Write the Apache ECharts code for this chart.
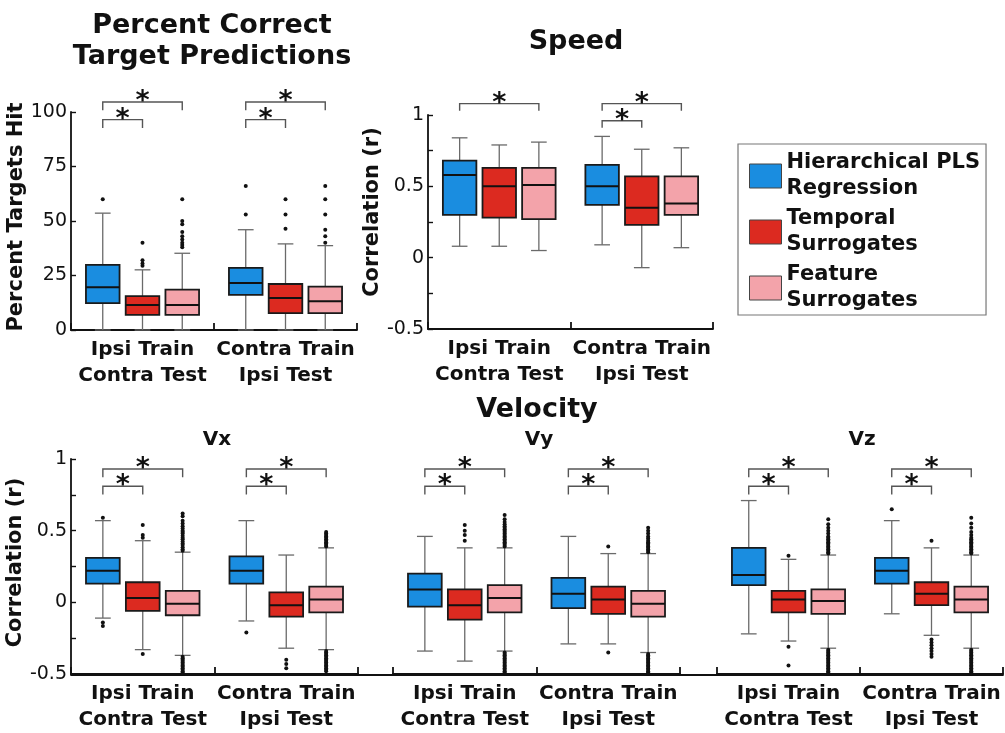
<!DOCTYPE html>
<html><head><meta charset="utf-8">
<script src="https://cdn.jsdelivr.net/npm/echarts@6/dist/echarts.min.js"></script>
<style>html,body{margin:0;padding:0;background:#fff}#c{width:1005px;height:733px}</style>
</head><body><div id="c"></div>
<script>
// ---------- DATA ----------
const groups = ['Ipsi Train\nContra Test', 'Contra Train\nIpsi Test'];
const methods = ['Hierarchical PLS Regression', 'Temporal Surrogates', 'Feature Surrogates'];
const legendLabels = ['Hierarchical PLS\nRegression', 'Temporal\nSurrogates', 'Feature\nSurrogates'];
const pctTickLabels = ['0', '25', '50', '75', '100'];
const corrTickLabels = ['-0.5', '0', '0.5', '1'];

// box stats per group: [lower whisker, Q1, median, Q3, upper whisker]
const pctHPLS = [[0, 12.3, 19.6, 29.9, 53.6], [0, 16.1, 21.6, 28.5, 46.0]];
const pctTemp = [[0, 6.9, 11.5, 15.5, 27.6], [0, 7.7, 14.7, 21.1, 39.5]];
const pctFeat = [[0, 6.9, 11.5, 18.5, 35.2], [0, 7.7, 13.2, 19.9, 38.7]];

const spdHPLS = [[0.08, 0.30, 0.58, 0.68, 0.84], [0.09, 0.37, 0.50, 0.65, 0.85]];
const spdTemp = [[0.08, 0.28, 0.50, 0.63, 0.79], [-0.07, 0.23, 0.35, 0.57, 0.76]];
const spdFeat = [[0.05, 0.27, 0.51, 0.63, 0.81], [0.07, 0.30, 0.38, 0.57, 0.77]];

const vxHPLS = [[-0.11, 0.13, 0.22, 0.31, 0.57], [-0.13, 0.13, 0.22, 0.32, 0.57]];
const vxTemp = [[-0.33, -0.06, 0.03, 0.14, 0.43], [-0.32, -0.10, -0.02, 0.07, 0.33]];
const vxFeat = [[-0.37, -0.09, -0.01, 0.08, 0.35], [-0.33, -0.07, 0.02, 0.11, 0.38]];

const vyHPLS = [[-0.34, -0.03, 0.09, 0.20, 0.46], [-0.29, -0.04, 0.06, 0.17, 0.46]];
const vyTemp = [[-0.41, -0.12, -0.02, 0.09, 0.38], [-0.29, -0.08, 0.02, 0.11, 0.34]];
const vyFeat = [[-0.34, -0.07, 0.03, 0.12, 0.38], [-0.35, -0.10, -0.01, 0.08, 0.34]];

const vzHPLS = [[-0.22, 0.12, 0.19, 0.38, 0.71], [-0.08, 0.13, 0.22, 0.31, 0.57]];
const vzTemp = [[-0.27, -0.07, 0.02, 0.08, 0.30], [-0.23, -0.02, 0.06, 0.14, 0.38]];
const vzFeat = [[-0.32, -0.08, 0.01, 0.09, 0.33], [-0.32, -0.07, 0.02, 0.11, 0.33]];

// outliers per group
const pctOutHPLS = [[60], [53, 66]];
const pctOutTemp = [[29.5, 30.5, 32, 40], [46.5, 53, 60]];
const pctOutFeat = [[38, 39, 40, 41.5, 43, 45, 48.5, 50, 60], [40, 43, 46, 53, 60, 66]];

const spdOutHPLS = [[], []];
const spdOutTemp = [[], []];
const spdOutFeat = [[], []];

const vxOutHPLS = [[0.59, -0.14, -0.165], [-0.21]];
const vxOutTemp = [[0.45, 0.47, 0.54, -0.36], [-0.40, -0.43, -0.46]];
const vxOutFeat = [
  [0.36, 0.37, 0.385, 0.40, 0.41, 0.425, 0.44, 0.45, 0.465, 0.48, 0.49, 0.50, 0.515, 0.53, 0.55, 0.57, 0.60, 0.62,
   -0.38, -0.39, -0.40, -0.41, -0.42, -0.43, -0.44, -0.45, -0.46, -0.47, -0.48, -0.49, -0.50],
  [0.39, 0.40, 0.41, 0.42, 0.43, 0.44, 0.45, 0.46, 0.47, 0.48, 0.49,
   -0.34, -0.35, -0.36, -0.37, -0.38, -0.39, -0.40, -0.41, -0.42, -0.43, -0.44, -0.45, -0.46, -0.47, -0.48]
];

const vyOutHPLS = [[], []];
const vyOutTemp = [[0.43, 0.47, 0.50, 0.54], [0.39, -0.35]];
const vyOutFeat = [
  [0.39, 0.40, 0.41, 0.42, 0.43, 0.44, 0.45, 0.46, 0.47, 0.48, 0.49, 0.50, 0.51, 0.52, 0.53, 0.545, 0.56, 0.58, 0.61,
   -0.35, -0.36, -0.37, -0.38, -0.39, -0.40, -0.41, -0.42, -0.43, -0.44, -0.45, -0.46, -0.47, -0.48, -0.49, -0.50],
  [0.35, 0.36, 0.37, 0.38, 0.39, 0.40, 0.41, 0.42, 0.43, 0.445, 0.46, 0.48, 0.50, 0.52,
   -0.36, -0.37, -0.38, -0.39, -0.40, -0.41, -0.42, -0.43, -0.44, -0.45, -0.46, -0.47, -0.48, -0.49, -0.50]
];

const vzOutHPLS = [[], [0.65]];
const vzOutTemp = [[0.325, -0.31, -0.44], [0.43, -0.26, -0.28, -0.30, -0.32, -0.34, -0.36, -0.38]];
const vzOutFeat = [
  [0.34, 0.35, 0.36, 0.37, 0.38, 0.39, 0.40, 0.41, 0.42, 0.43, 0.44, 0.45, 0.46, 0.48, 0.50, 0.52, 0.545, 0.58,
   -0.33, -0.34, -0.35, -0.36, -0.37, -0.38, -0.39, -0.40, -0.41, -0.42, -0.43, -0.44, -0.45, -0.46, -0.47, -0.48, -0.49, -0.50],
  [0.34, 0.35, 0.36, 0.37, 0.38, 0.39, 0.40, 0.41, 0.42, 0.43, 0.44, 0.45, 0.47, 0.49, 0.52, 0.55, 0.59,
   -0.33, -0.34, -0.35, -0.36, -0.37, -0.38, -0.39, -0.40, -0.41, -0.42, -0.43, -0.44, -0.45, -0.46, -0.47, -0.48, -0.49, -0.50]
];

// significant comparisons: [group, methodA, methodB]
const pctSig = [[0, 0, 1], [0, 0, 2], [1, 0, 1], [1, 0, 2]];
const spdSig = [[0, 0, 2], [1, 0, 1], [1, 0, 2]];
const vxSig = [[0, 0, 1], [0, 0, 2], [1, 0, 1], [1, 0, 2]];
const vySig = [[0, 0, 1], [0, 0, 2], [1, 0, 1], [1, 0, 2]];
const vzSig = [[0, 0, 1], [0, 0, 2], [1, 0, 1], [1, 0, 2]];

// ---------- LAYOUT / STYLE ----------
const FONT = 'DejaVu Sans';
const INK = '#111';
const methodColors = ['#1a8de0', '#dc2a20', '#f3a3aa'];
const SPREAD = 0.278, BOXW = 0.235, CAPW = 0.11;

const panels = [
  { grid: {left: 71, top: 112, width: 286, height: 218}, min: 0, max: 100, interval: 25,
    boxes: [pctHPLS, pctTemp, pctFeat], outs: [pctOutHPLS, pctOutTemp, pctOutFeat], sig: pctSig,
    lv: {inner: 96.5, outer: 104.6, tick: 3.8}, showY: true, yName: 'Percent Targets Hit',
    nameGap: 34, namePad: 8, ticks: pctTickLabels },
  { grid: {left: 428, top: 115, width: 285, height: 214}, min: -0.5, max: 1, interval: 0.25,
    boxes: [spdHPLS, spdTemp, spdFeat], outs: [spdOutHPLS, spdOutTemp, spdOutFeat], sig: spdSig,
    lv: {inner: 0.96, outer: 1.08, tick: 0.05}, showY: true, yName: 'Correlation (r)',
    nameGap: 33, namePad: 20, ticks: corrTickLabels },
  { grid: {left: 71, top: 459, width: 287, height: 216}, min: -0.5, max: 1, interval: 0.25,
    boxes: [vxHPLS, vxTemp, vxFeat], outs: [vxOutHPLS, vxOutTemp, vxOutFeat], sig: vxSig,
    lv: {inner: 0.81, outer: 0.93, tick: 0.058}, showY: true, yName: 'Correlation (r)',
    nameGap: 37, namePad: 8, ticks: corrTickLabels },
  { grid: {left: 393, top: 459, width: 287, height: 216}, min: -0.5, max: 1, interval: 0.25,
    boxes: [vyHPLS, vyTemp, vyFeat], outs: [vyOutHPLS, vyOutTemp, vyOutFeat], sig: vySig,
    lv: {inner: 0.81, outer: 0.93, tick: 0.058}, showY: false, ticks: corrTickLabels },
  { grid: {left: 717, top: 459, width: 286, height: 216}, min: -0.5, max: 1, interval: 0.25,
    boxes: [vzHPLS, vzTemp, vzFeat], outs: [vzOutHPLS, vzOutTemp, vzOutFeat], sig: vzSig,
    lv: {inner: 0.81, outer: 0.93, tick: 0.058}, showY: false, ticks: corrTickLabels }
];

function boxItem(m) {
  return function (params, api) {
    const g = api.value(0);
    const band = api.size([1, 0])[0];
    const x = api.coord([g, 0])[0] + (m - 1) * band * SPREAD;
    const y = v => api.coord([g, v])[1];
    const yMin = y(api.value(1)), yQ1 = y(api.value(2)), yMed = y(api.value(3)),
          yQ3 = y(api.value(4)), yMax = y(api.value(5));
    const hw = band * BOXW / 2, cw = band * CAPW / 2;
    const ws = {stroke: '#6a6a6a', lineWidth: 1.3};
    return {type: 'group', children: [
      {type: 'line', shape: {x1: x, y1: yMax, x2: x, y2: yQ3}, style: ws},
      {type: 'line', shape: {x1: x, y1: yQ1, x2: x, y2: yMin}, style: ws},
      {type: 'line', shape: {x1: x - cw, y1: yMax, x2: x + cw, y2: yMax}, style: ws},
      {type: 'line', shape: {x1: x - cw, y1: yMin, x2: x + cw, y2: yMin}, style: ws},
      {type: 'rect', shape: {x: x - hw, y: yQ3, width: 2 * hw, height: yQ1 - yQ3},
       style: {fill: api.visual('color'), stroke: '#1a1a1a', lineWidth: 1.8}},
      {type: 'line', shape: {x1: x - hw, y1: yMed, x2: x + hw, y2: yMed}, style: {stroke: INK, lineWidth: 2}}
    ]};
  };
}
function outItem(m) {
  return function (params, api) {
    const g = api.value(0);
    const band = api.size([1, 0])[0];
    const p = api.coord([g, api.value(1)]);
    return {type: 'circle', shape: {cx: p[0] + (m - 1) * band * SPREAD, cy: p[1], r: 2}, style: {fill: INK}};
  };
}
function sigItem(lv) {
  return function (params, api) {
    const g = api.value(0), m1 = api.value(1), m2 = api.value(2);
    const band = api.size([1, 0])[0];
    const cx = api.coord([g, 0])[0];
    const x1 = cx + (m1 - 1) * band * SPREAD, x2 = cx + (m2 - 1) * band * SPREAD;
    const level = (m2 - m1 === 1) ? lv.inner : lv.outer;
    const yL = api.coord([g, level])[1], yT = api.coord([g, level - lv.tick])[1];
    return {type: 'group', children: [
      {type: 'polyline', shape: {points: [[x1, yT], [x1, yL], [x2, yL], [x2, yT]]},
       style: {stroke: '#555', lineWidth: 1.4, fill: 'none'}},
      {type: 'text', x: (x1 + x2) / 2, y: yL,
       style: {text: '*', fill: INK, fontFamily: FONT, fontWeight: 'bold', fontSize: 27,
               align: 'center', verticalAlign: 'middle'}}
    ]};
  };
}

const grids = [], xAxes = [], yAxes = [], series = [];
panels.forEach((p, i) => {
  grids.push(Object.assign({containLabel: false}, p.grid));
  xAxes.push({
    type: 'category', gridIndex: i, data: groups, boundaryGap: true,
    axisLine: {show: true, onZero: false, lineStyle: {color: INK, width: 1.8}},
    axisTick: {show: true, inside: true, length: 7, alignWithLabel: false, lineStyle: {color: INK, width: 1.8}},
    axisLabel: {interval: 0, fontFamily: FONT, fontWeight: 'bold', fontSize: 20, lineHeight: 26, color: INK, margin: 7},
    splitLine: {show: false}
  });
  yAxes.push({
    type: 'value', gridIndex: i, min: p.min, max: p.max, interval: p.interval, show: p.showY,
    axisLine: {show: true, lineStyle: {color: INK, width: 1.8}},
    axisTick: {show: true, inside: true, length: 5, lineStyle: {color: INK, width: 1.4}},
    axisLabel: {fontFamily: FONT, fontSize: 19, color: INK, margin: 4,
      formatter: v => { const s = String(+(+v).toFixed(2)); return p.ticks.indexOf(s) >= 0 ? s : ''; }},
    splitLine: {show: false},
    name: p.yName || '', nameLocation: 'middle', nameGap: p.nameGap || 30,
    nameTextStyle: {fontFamily: FONT, fontWeight: 'bold', fontSize: 21, color: INK, padding: [0, 0, 0, p.namePad || 0]}
  });
  p.boxes.forEach((b, m) => {
    series.push({
      type: 'custom', name: methods[m], xAxisIndex: i, yAxisIndex: i,
      itemStyle: {color: methodColors[m]},
      renderItem: boxItem(m),
      data: b.map((s, g) => [g].concat(s))
    });
  });
  p.outs.forEach((o, m) => {
    const d = [];
    o.forEach((vals, g) => vals.forEach(v => d.push([g, v])));
    series.push({type: 'custom', name: 'out' + i + m, xAxisIndex: i, yAxisIndex: i, renderItem: outItem(m), data: d});
  });
  series.push({type: 'custom', name: 'sig' + i, xAxisIndex: i, yAxisIndex: i, clip: false,
    renderItem: sigItem(p.lv), data: p.sig});
});
// continuous baseline under the velocity row
grids.push({left: 71, top: 459, width: 932, height: 216});
xAxes.push({type: 'value', gridIndex: 5, axisLine: {show: true, onZero: false, lineStyle: {color: INK, width: 1.8}},
  axisTick: {show: false}, axisLabel: {show: false}, splitLine: {show: false}});
yAxes.push({type: 'value', gridIndex: 5, show: false});

const titleStyle = (fs, lh) => ({fontFamily: FONT, fontWeight: 'bold', fontSize: fs, lineHeight: lh, color: INK});
const option = {
  animation: false,
  backgroundColor: '#fff',
  title: [
    {text: 'Percent Correct\nTarget Predictions', left: 212, top: 10, textAlign: 'center', padding: 0, textStyle: titleStyle(27, 31.5)},
    {text: 'Speed', left: 576, top: 26, textAlign: 'center', padding: 0, textStyle: titleStyle(27, 32)},
    {text: 'Velocity', left: 537, top: 394, textAlign: 'center', padding: 0, textStyle: titleStyle(27, 32)},
    {text: 'Vx', left: 217, top: 428, textAlign: 'center', padding: 0, textStyle: titleStyle(20, 23)},
    {text: 'Vy', left: 539, top: 428, textAlign: 'center', padding: 0, textStyle: titleStyle(20, 23)},
    {text: 'Vz', left: 862, top: 428, textAlign: 'center', padding: 0, textStyle: titleStyle(20, 23)}
  ],
  legend: {
    data: methods, orient: 'vertical', left: 738, top: 144, icon: 'rect',
    itemWidth: 32, itemHeight: 24, itemGap: 4, padding: [6, 6, 1, 11],
    borderColor: '#777', borderWidth: 1.2, selectedMode: false,
    itemStyle: {borderColor: '#444', borderWidth: 1},
    formatter: n => legendLabels[methods.indexOf(n)],
    textStyle: {fontFamily: FONT, fontWeight: 'bold', fontSize: 21, lineHeight: 26, color: INK}
  },
  grid: grids, xAxis: xAxes, yAxis: yAxes, series: series
};
const chart = echarts.init(document.getElementById('c'));
chart.setOption(option);
</script></body></html>
